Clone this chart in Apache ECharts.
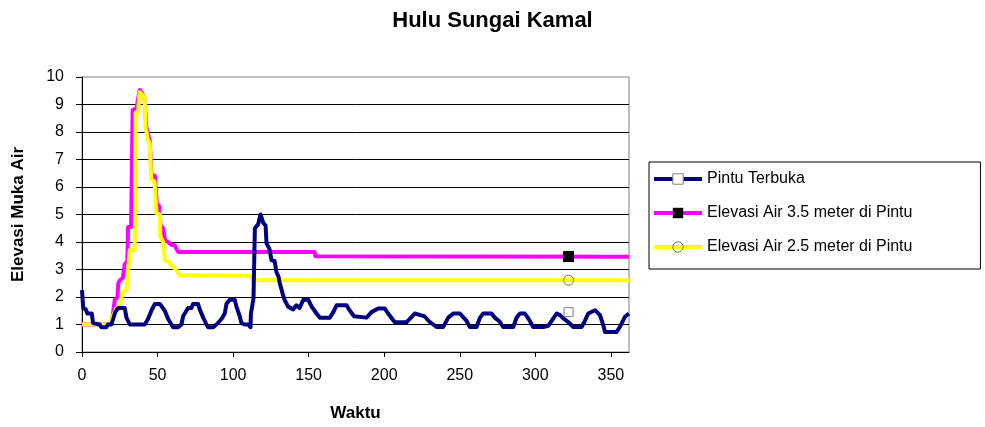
<!DOCTYPE html>
<html>
<head>
<meta charset="utf-8">
<script src="https://cdn.jsdelivr.net/npm/echarts@6/dist/echarts.min.js"></script>
<style>
  html, body { margin: 0; padding: 0; background: #fff; }
  #chart { width: 985px; height: 427px; }
</style>
</head>
<body>
<div id="chart"></div>
<script>
// Water level at Hulu Sungai Kamal over time
const chartTitle = 'Hulu Sungai Kamal';
const seriesNames = ['Pintu Terbuka', 'Elevasi Air 3.5 meter di Pintu', 'Elevasi Air 2.5 meter di Pintu'];
const xTicks = [0, 50, 100, 150, 200, 250, 300, 350];

// [waktu, elevasi] pairs
const pintuTerbuka = [
  [0, 2.25], [0.8, 1.6], [2.5, 1.55], [3.5, 1.4], [6.5, 1.4], [7.3, 1.05], [11.7, 1.0], [12.8, 0.9],
  [16.1, 0.9], [17.2, 1.0], [19.5, 1.0], [20.6, 1.2], [22, 1.45], [23.9, 1.6], [28.3, 1.6], [29.4, 1.25],
  [31.6, 1.0], [41.5, 1.0], [43.7, 1.2], [45.9, 1.5], [48.2, 1.75], [51.5, 1.75], [54.8, 1.5], [57, 1.2],
  [59.2, 1.0], [60.3, 0.9], [63.6, 0.9], [65.8, 1.0], [66.9, 1.3], [70.2, 1.6], [72.4, 1.6], [73.5, 1.75],
  [76.8, 1.75], [77.9, 1.55], [80.2, 1.25], [82.4, 1.0], [83.5, 0.9], [86.8, 0.9], [89, 1.0], [92.3, 1.2],
  [94.5, 1.4], [95.6, 1.75], [97.8, 1.9], [101.1, 1.9], [102.2, 1.65], [104.4, 1.3], [105.5, 1.05],
  [107.7, 1.0], [109.9, 1.0], [111.5, 0.9], [111.8, 1.4], [113.5, 1.95], [114.4, 4.5], [116.6, 4.65],
  [118.1, 5.0], [119.9, 4.7], [121.5, 4.6], [122.1, 3.95], [124, 3.76], [125.4, 3.34], [127.5, 3.3],
  [128.7, 2.9], [130, 2.75], [130.9, 2.5], [133.1, 2.06], [134.2, 1.88], [136.4, 1.65], [139.7, 1.55],
  [141.9, 1.7], [144, 1.6], [146.5, 1.9], [149.7, 1.9], [152, 1.65], [155.2, 1.4], [157.4, 1.25],
  [164, 1.25], [166.3, 1.45], [168.5, 1.7], [175.1, 1.7], [177.3, 1.5], [180, 1.3], [188.3, 1.25],
  [191.6, 1.45], [196, 1.58], [200.4, 1.58], [202.6, 1.4], [207, 1.08], [214.7, 1.08], [218, 1.27],
  [220.2, 1.4], [224, 1.34], [226.6, 1.3], [230, 1.1], [232.4, 1.0], [234.6, 0.91], [239, 0.91],
  [242.4, 1.25], [245.7, 1.4], [250.1, 1.4], [254.5, 1.13], [256.7, 0.91], [261.1, 0.91], [263.3, 1.24],
  [265.5, 1.4], [271, 1.4], [273.2, 1.25], [276.5, 1.1], [278.7, 0.91], [285.4, 0.91], [287.6, 1.25],
  [289.8, 1.4], [293.1, 1.4], [296.4, 1.13], [298.6, 0.91], [305.3, 0.91], [308.6, 0.95], [311.9, 1.22],
  [314.1, 1.4], [316.3, 1.34], [318.5, 1.22], [321.8, 1.09], [325.1, 0.91], [330.6, 0.91], [332.8, 1.13],
  [335, 1.4], [339.5, 1.52], [342.8, 1.34], [345, 0.97], [346.1, 0.73], [353.8, 0.73], [356, 0.91],
  [359.3, 1.28], [362, 1.4]
];

const elevasi35 = [
  [0, 1.0], [18.3, 1.0], [20, 1.2], [21.7, 1.9], [23.5, 2.0], [24, 2.5], [25, 2.6], [27, 2.7],
  [28.3, 3.2], [30, 3.3], [30.5, 4.55], [32.5, 4.55], [33.5, 8.8], [36, 8.85], [38.2, 9.53], [40.5, 9.35],
  [41.5, 9.2], [42.5, 8.2], [44.8, 7.7], [46, 6.44], [48.2, 6.4], [49.5, 5.4], [51, 5.3], [52, 4.6],
  [53.7, 4.5], [55, 4.05], [57, 4.0], [59, 3.9], [61.4, 3.88], [63.6, 3.64], [153.9, 3.64], [154.5, 3.48],
  [362, 3.46]
];

const elevasi25 = [
  [0, 1.0], [18.3, 1.0], [19.4, 1.2], [22.8, 1.6], [25, 1.6], [26, 2.0], [27.2, 2.2], [29.4, 2.25],
  [31.6, 3.7], [34.9, 3.7], [35.5, 8.7], [37, 8.7], [38.2, 9.45], [40, 9.35], [41.5, 9.25], [42, 8.2],
  [43.7, 7.7], [44.8, 7.6], [45.9, 6.26], [48, 6.2], [49.3, 5.04], [51.5, 5.0], [51.8, 4.2], [53.7, 4.0],
  [54.8, 3.33], [57, 3.3], [59.2, 3.15], [62.5, 2.97], [64.7, 2.79], [112, 2.77], [113, 2.61], [362, 2.61]
];

// single marker drawn for each series
const markerX = 322;
const markerY = [1.45, 3.47, 2.61];

const font = 'Liberation Sans, Arial, sans-serif';
const chart = echarts.init(document.getElementById('chart'), null, { renderer: 'canvas' });

const markerStyles = [
  { symbol: 'rect', symbolSize: 9, itemStyle: { color: '#ffffff', borderColor: '#808080', borderWidth: 1 } },
  { symbol: 'rect', symbolSize: 11, itemStyle: { color: '#000000', borderColor: '#000000', borderWidth: 0 } },
  { symbol: 'circle', symbolSize: 10, itemStyle: { color: 'rgba(255,255,255,0)', borderColor: '#707070', borderWidth: 1 } }
];
const lineColors = ['#000080', '#ff00ff', '#ffff00'];
const seriesData = [pintuTerbuka, elevasi35, elevasi25];
const zOrder = [5, 3, 4];

const series = seriesData.map((d, i) => ({
  name: seriesNames[i],
  type: 'line',
  data: d,
  symbol: markerStyles[i].symbol,
  showSymbol: false,
  z: zOrder[i],
  lineStyle: { color: lineColors[i], width: 4, join: 'round' },
  itemStyle: markerStyles[i].itemStyle,
  emphasis: { disabled: true },
  animation: false,
  markPoint: {
    symbol: markerStyles[i].symbol,
    symbolSize: markerStyles[i].symbolSize,
    itemStyle: markerStyles[i].itemStyle,
    label: { show: false },
    data: [{ coord: [markerX, markerY[i]] }],
    animation: false
  }
}));

chart.setOption({
  backgroundColor: '#ffffff',
  animation: false,
  title: {
    text: chartTitle,
    left: 'center',
    top: 5,
    textStyle: { fontFamily: font, fontSize: 22, fontWeight: 'bold', color: '#000' }
  },
  legend: {
    orient: 'vertical',
    left: 649,
    top: 162,
    padding: [9, 68, 14, 3],
    itemWidth: 48,
    itemHeight: 13,
    itemGap: 18,
    borderColor: '#000',
    borderWidth: 1,
    backgroundColor: '#fff',
    lineStyle: { width: 4 },
    textStyle: { fontFamily: font, fontSize: 16, color: '#000' },
    data: seriesNames.map((n, i) => ({ name: n, itemStyle: markerStyles[i].itemStyle }))
  },
  grid: {
    left: 82, right: 356, top: 77, bottom: 75,
    show: true, borderColor: '#808080', borderWidth: 1, backgroundColor: 'transparent'
  },
  xAxis: {
    type: 'value',
    min: 0, max: 362, interval: 50,
    name: 'Waktu',
    nameLocation: 'middle',
    nameGap: 53,
    nameTextStyle: { fontFamily: font, fontSize: 17, fontWeight: 'bold', color: '#000' },
    axisLine: { lineStyle: { color: '#000', width: 1 } },
    axisTick: { length: 5, lineStyle: { color: '#000' }, customValues: xTicks },
    axisLabel: { margin: 16, fontFamily: font, fontSize: 16, color: '#000', customValues: xTicks },
    splitLine: { show: false }
  },
  yAxis: {
    type: 'value',
    min: 0, max: 10, interval: 1,
    name: 'Elevasi Muka Air',
    nameLocation: 'middle',
    nameGap: 55,
    nameTextStyle: { fontFamily: font, fontSize: 17, fontWeight: 'bold', color: '#000' },
    axisLine: { show: true, lineStyle: { color: '#000', width: 1 } },
    axisTick: { show: true, length: 6, lineStyle: { color: '#000' } },
    axisLabel: { margin: 18, fontFamily: font, fontSize: 16, color: '#000' },
    splitLine: { show: true, showMaxLine: false, lineStyle: { color: '#000', width: 1 } }
  },
  series: series
});
</script>
</body>
</html>
